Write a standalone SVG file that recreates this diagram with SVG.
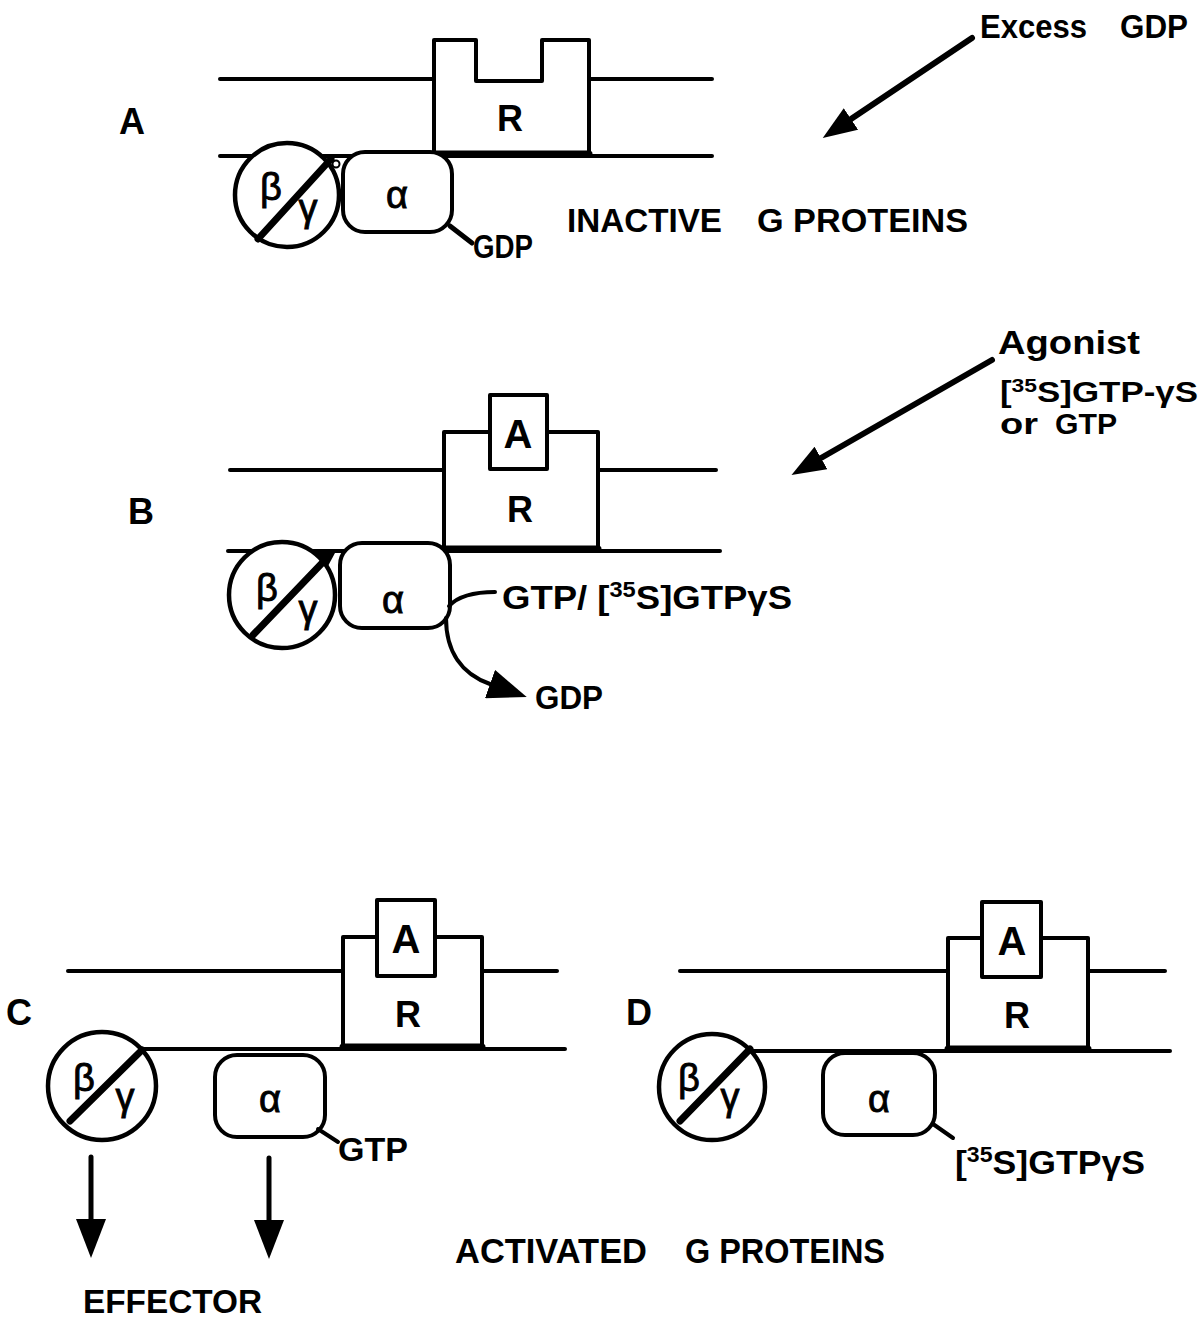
<svg xmlns="http://www.w3.org/2000/svg" width="1201" height="1323" viewBox="0 0 1201 1323">
<defs>
<style>
.ln{stroke:#000;stroke-width:4;fill:none;stroke-linecap:round;stroke-linejoin:round}
.bx{stroke:#000;stroke-width:4;fill:#fff;stroke-linejoin:round}
.thick{stroke:#000;stroke-width:7;fill:none;stroke-linecap:round}
.t{font-family:"Liberation Sans",Arial,sans-serif;font-weight:bold;fill:#000}
.lb{font-size:36px}
.lab{font-size:34px}
.sm{font-size:29px}
.big{font-size:40px;text-anchor:middle}
.gr{font-family:"Liberation Sans",Arial,sans-serif;font-size:38px;fill:#000;stroke:#000;stroke-width:0.9;text-anchor:middle}
.sup{font-size:22px}
</style>
<marker id="hm" viewBox="0 0 34 26" refX="0" refY="13" markerWidth="34" markerHeight="26" markerUnits="userSpaceOnUse" orient="auto"><path d="M0,0 L34,13 L0,26 Z" fill="#000"/></marker>
<marker id="hb" viewBox="0 0 39 30" refX="0" refY="15" markerWidth="39" markerHeight="30" markerUnits="userSpaceOnUse" orient="auto"><path d="M0,0 L39,15 L0,30 Z" fill="#000"/></marker>
</defs>
<rect width="1201" height="1323" fill="#fff"/>

<!-- Panel A -->
<g id="panelA">
<text class="t lb" x="119" y="134">A</text>
<g id="A-membrane">
<line class="ln" x1="220" y1="79" x2="434" y2="79"/>
<line class="ln" x1="589" y1="79" x2="712" y2="79"/>
<line class="ln" x1="220" y1="156" x2="712" y2="156"/>
<line class="thick" x1="434" y1="154" x2="589" y2="154"/>
</g>
<g id="A-R">
<path class="ln" d="M434,154 V40 H476 V81 H542 V40 H589 V154"/>
<text class="t big" x="510" y="131" style="font-size:36px">R</text>
</g>
<g id="A-bg">
<circle class="bx" cx="287" cy="195" r="52" style="stroke-width:4.5"/>
<line class="thick" x1="258" y1="239" x2="331" y2="159"/>
<circle cx="336" cy="164" r="3.5" fill="#fff" stroke="#000" stroke-width="2"/>
<text class="gr" x="271" y="200">β</text>
<text class="gr" x="308" y="221">γ</text>
</g>
<g id="A-alpha">
<rect class="bx" x="343" y="152" width="109" height="80" rx="22"/>
<text class="gr" x="397" y="208">α</text>
</g>
<text class="t lab" x="473" y="258" textLength="60" lengthAdjust="spacingAndGlyphs">GDP</text>
<text class="t lab" x="567" y="232" textLength="155" lengthAdjust="spacingAndGlyphs">INACTIVE</text>
<text class="t lab" x="757" y="232" textLength="211" lengthAdjust="spacingAndGlyphs">G PROTEINS</text>
<text class="t lab" x="980" y="38" textLength="107" lengthAdjust="spacingAndGlyphs">Excess</text>
<text class="t lab" x="1120" y="38" textLength="68" lengthAdjust="spacingAndGlyphs">GDP</text>
</g>

<!-- Panel B -->
<g id="panelB">
<text class="t lb" x="128" y="524">B</text>
<g id="B-membrane">
<line class="ln" x1="230" y1="470" x2="444" y2="470"/>
<line class="ln" x1="598" y1="470" x2="716" y2="470"/>
<line class="ln" x1="228" y1="551" x2="720" y2="551"/>
<line class="thick" x1="444" y1="549" x2="598" y2="549"/>
</g>
<g id="B-R">
<path class="ln" d="M444,549 V432 H490 M547,432 H598 V549"/>
<rect class="bx" x="490" y="395" width="57" height="74"/>
<text class="t big" x="518" y="448">A</text>
<text class="t big" x="520" y="522" style="font-size:36px">R</text>
</g>
<g id="B-bg">
<circle class="bx" cx="282" cy="595" r="53" style="stroke-width:4.5"/>
<line class="thick" x1="253" y1="635" x2="325" y2="560"/>
<path d="M316,553 L335,553 L328,566 Z" fill="#000"/>
<text class="gr" x="267" y="601">β</text>
<text class="gr" x="308" y="622">γ</text>
</g>
<g id="B-alpha">
<rect class="bx" x="340" y="543" width="110" height="85" rx="22"/>
<text class="gr" x="393" y="613">α</text>
</g>
<text class="t lab" x="502" y="609" textLength="290" lengthAdjust="spacingAndGlyphs">GTP/ [<tspan class="sup" dy="-12">35</tspan><tspan dy="12">S]GTPγS</tspan></text>
<text class="t lab" x="535" y="709" textLength="68" lengthAdjust="spacingAndGlyphs">GDP</text>
<text class="t lab" x="998" y="354" textLength="142" lengthAdjust="spacingAndGlyphs">Agonist</text>
<text class="t sm" x="1000" y="402" textLength="198" lengthAdjust="spacingAndGlyphs">[<tspan class="sup" style="font-size:19px" dy="-10">35</tspan><tspan dy="10">S]GTP-γS</tspan></text>
<text class="t sm" x="1000" y="434" textLength="38" lengthAdjust="spacingAndGlyphs">or</text>
<text class="t sm" x="1055" y="434" textLength="62" lengthAdjust="spacingAndGlyphs">GTP</text>
</g>

<!-- Panel C -->
<g id="panelC">
<text class="t lb" x="6" y="1025">C</text>
<g id="C-membrane">
<line class="ln" x1="68" y1="971" x2="343" y2="971"/>
<line class="ln" x1="482" y1="971" x2="557" y2="971"/>
<line class="ln" x1="143" y1="1049" x2="565" y2="1049"/>
<line class="thick" x1="343" y1="1047" x2="482" y2="1047"/>
</g>
<g id="C-R">
<path class="ln" d="M343,1047 V937 H377 M435,937 H482 V1047"/>
<rect class="bx" x="377" y="900" width="58" height="76"/>
<text class="t big" x="406" y="953">A</text>
<text class="t big" x="408" y="1027" style="font-size:36px">R</text>
</g>
<g id="C-bg">
<circle class="bx" cx="102" cy="1086" r="54" style="stroke-width:4.5"/>
<line class="thick" x1="70" y1="1121" x2="142" y2="1050"/>
<text class="gr" x="84" y="1091">β</text>
<text class="gr" x="125" y="1110">γ</text>
</g>
<g id="C-alpha">
<rect class="bx" x="215" y="1055" width="110" height="82" rx="22"/>
<text class="gr" x="270" y="1112">α</text>
</g>
<text class="t lab" x="338" y="1161" textLength="70" lengthAdjust="spacingAndGlyphs">GTP</text>
<text class="t lab" x="83" y="1313" textLength="179" lengthAdjust="spacingAndGlyphs">EFFECTOR</text>
<text class="t lab" x="455" y="1263" textLength="192" lengthAdjust="spacingAndGlyphs" style="font-size:35px">ACTIVATED</text>
<text class="t lab" x="685" y="1263" textLength="200" lengthAdjust="spacingAndGlyphs" style="font-size:35px">G PROTEINS</text>
</g>

<!-- Panel D -->
<g id="panelD">
<text class="t lb" x="626" y="1025">D</text>
<g id="D-membrane">
<line class="ln" x1="680" y1="971" x2="948" y2="971"/>
<line class="ln" x1="1088" y1="971" x2="1165" y2="971"/>
<line class="ln" x1="750" y1="1051" x2="1170" y2="1051"/>
<line class="thick" x1="948" y1="1049" x2="1088" y2="1049"/>
</g>
<g id="D-R">
<path class="ln" d="M948,1049 V938 H982 M1041,938 H1088 V1049"/>
<rect class="bx" x="982" y="902" width="59" height="75"/>
<text class="t big" x="1012" y="955">A</text>
<text class="t big" x="1017" y="1028" style="font-size:36px">R</text>
</g>
<g id="D-bg">
<circle class="bx" cx="712" cy="1087" r="53" style="stroke-width:4.5"/>
<line class="thick" x1="680" y1="1121" x2="750" y2="1049"/>
<text class="gr" x="689" y="1091">β</text>
<text class="gr" x="730" y="1110">γ</text>
</g>
<g id="D-alpha">
<rect class="bx" x="823" y="1053" width="112" height="82" rx="22"/>
<text class="gr" x="879" y="1112">α</text>
</g>
<text class="t lab" x="955" y="1174" textLength="190" lengthAdjust="spacingAndGlyphs">[<tspan class="sup" dy="-12">35</tspan><tspan dy="12">S]GTPγS</tspan></text>
</g>

<!-- Connectors -->
<g id="connectors">
<line class="ln" style="stroke-width:6" x1="972" y1="38" x2="851" y2="119" marker-end="url(#hm)"/>
<line class="ln" style="stroke-width:6" x1="992" y1="360" x2="821" y2="458" marker-end="url(#hm)"/>
<line class="ln" style="stroke-width:5" x1="450" y1="226" x2="472" y2="243"/>
<path class="ln" d="M449,606 Q462,592 495,592"/>
<path class="ln" d="M446,618 C446,652 462,674 490,684" marker-end="url(#hb)"/>
<line class="ln" style="stroke-width:4" x1="318" y1="1129" x2="338" y2="1142"/>
<line class="ln" style="stroke-width:4" x1="933" y1="1124" x2="953" y2="1138"/>
<line class="ln" style="stroke-width:5" x1="91" y1="1157" x2="91" y2="1219" marker-end="url(#hb)"/>
<line class="ln" style="stroke-width:5" x1="269" y1="1158" x2="269" y2="1220" marker-end="url(#hb)"/>
</g>
</svg>
